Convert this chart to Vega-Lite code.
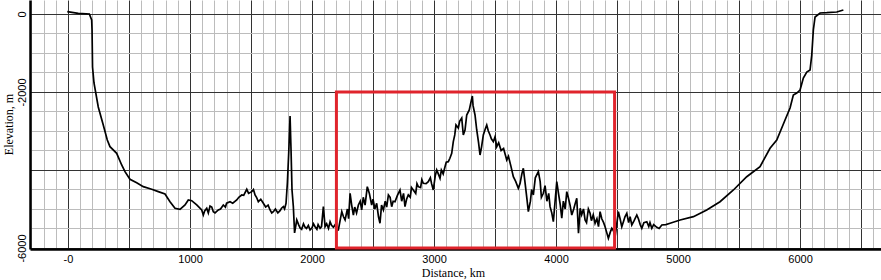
{
  "$schema": "https://vega.github.io/schema/vega-lite/v6.json",
  "width": 851,
  "height": 249,
  "autosize": {"type": "none"},
  "padding": {"left": 30, "top": 0, "right": 0, "bottom": 31},
  "background": "white",
  "config": {"view": {"stroke": null}},
  "datasets": {
    "profile": [
      {"d": -6, "e": 59}, {"d": 84, "e": 18}, {"d": 175, "e": 0}, {"d": 194, "e": -154}, {"d": 197, "e": -410},
      {"d": 201, "e": -1359}, {"d": 213, "e": -1769}, {"d": 248, "e": -2385}, {"d": 289, "e": -2846}, {"d": 322, "e": -3231},
      {"d": 344, "e": -3402}, {"d": 399, "e": -3572}, {"d": 440, "e": -3872}, {"d": 467, "e": -4043}, {"d": 508, "e": -4238},
      {"d": 563, "e": -4326}, {"d": 617, "e": -4428}, {"d": 686, "e": -4495}, {"d": 740, "e": -4556}, {"d": 795, "e": -4615},
      {"d": 836, "e": -4813}, {"d": 877, "e": -4982}, {"d": 918, "e": -5008}, {"d": 959, "e": -4897}, {"d": 986, "e": -4769},
      {"d": 1014, "e": -4787}, {"d": 1055, "e": -4897}, {"d": 1096, "e": -5025}, {"d": 1109, "e": -5154}, {"d": 1120, "e": -5050},
      {"d": 1137, "e": -4982}, {"d": 1150, "e": -5100}, {"d": 1164, "e": -4923}, {"d": 1178, "e": -4950}, {"d": 1191, "e": -5069},
      {"d": 1205, "e": -5100}, {"d": 1232, "e": -5025}, {"d": 1250, "e": -5000}, {"d": 1273, "e": -4897}, {"d": 1290, "e": -4950},
      {"d": 1300, "e": -4850}, {"d": 1328, "e": -4813}, {"d": 1350, "e": -4850}, {"d": 1383, "e": -4769}, {"d": 1400, "e": -4700},
      {"d": 1424, "e": -4641}, {"d": 1440, "e": -4650}, {"d": 1465, "e": -4495}, {"d": 1480, "e": -4600}, {"d": 1506, "e": -4556},
      {"d": 1520, "e": -4500}, {"d": 1533, "e": -4641}, {"d": 1545, "e": -4700}, {"d": 1560, "e": -4813}, {"d": 1580, "e": -4750},
      {"d": 1601, "e": -4854}, {"d": 1620, "e": -4950}, {"d": 1640, "e": -4900}, {"d": 1656, "e": -5025}, {"d": 1670, "e": -5100},
      {"d": 1683, "e": -5069}, {"d": 1700, "e": -5000}, {"d": 1720, "e": -5100}, {"d": 1738, "e": -5043}, {"d": 1750, "e": -4980},
      {"d": 1765, "e": -4941}, {"d": 1775, "e": -5000}, {"d": 1787, "e": -4854}, {"d": 1798, "e": -4333}, {"d": 1809, "e": -3564},
      {"d": 1820, "e": -2615}, {"d": 1828, "e": -3487}, {"d": 1836, "e": -4513}, {"d": 1847, "e": -4941}, {"d": 1857, "e": -5615},
      {"d": 1875, "e": -5282}, {"d": 1890, "e": -5400}, {"d": 1902, "e": -5487}, {"d": 1915, "e": -5520}, {"d": 1930, "e": -5380},
      {"d": 1943, "e": -5469}, {"d": 1955, "e": -5500}, {"d": 1970, "e": -5420}, {"d": 1984, "e": -5538}, {"d": 2000, "e": -5480},
      {"d": 2012, "e": -5380}, {"d": 2025, "e": -5454}, {"d": 2040, "e": -5520}, {"d": 2050, "e": -5400}, {"d": 2066, "e": -5495},
      {"d": 2078, "e": -5450}, {"d": 2093, "e": -4941}, {"d": 2107, "e": -5454}, {"d": 2120, "e": -5380}, {"d": 2135, "e": -5500},
      {"d": 2148, "e": -5326}, {"d": 2160, "e": -5420}, {"d": 2175, "e": -5469}, {"d": 2190, "e": -5400}, {"d": 2200, "e": -5560},
      {"d": 2216, "e": -5538}, {"d": 2230, "e": -5300}, {"d": 2244, "e": -5069}, {"d": 2258, "e": -5200}, {"d": 2271, "e": -5282},
      {"d": 2290, "e": -5000}, {"d": 2300, "e": -5250}, {"d": 2312, "e": -4597}, {"d": 2325, "e": -4900}, {"d": 2339, "e": -5154},
      {"d": 2350, "e": -4950}, {"d": 2365, "e": -5100}, {"d": 2380, "e": -4897}, {"d": 2395, "e": -4800}, {"d": 2407, "e": -5025},
      {"d": 2420, "e": -4700}, {"d": 2435, "e": -4900}, {"d": 2453, "e": -4428}, {"d": 2470, "e": -4600}, {"d": 2489, "e": -4897},
      {"d": 2500, "e": -4750}, {"d": 2515, "e": -5000}, {"d": 2530, "e": -4854}, {"d": 2545, "e": -5200}, {"d": 2557, "e": -5366},
      {"d": 2570, "e": -4900}, {"d": 2585, "e": -5025}, {"d": 2600, "e": -4800}, {"d": 2612, "e": -4950}, {"d": 2626, "e": -4641},
      {"d": 2640, "e": -4700}, {"d": 2653, "e": -4941}, {"d": 2665, "e": -4800}, {"d": 2680, "e": -4813}, {"d": 2700, "e": -4650},
      {"d": 2721, "e": -4513}, {"d": 2735, "e": -4800}, {"d": 2750, "e": -4600}, {"d": 2762, "e": -4941}, {"d": 2775, "e": -4750},
      {"d": 2789, "e": -4641}, {"d": 2805, "e": -4700}, {"d": 2815, "e": -4450}, {"d": 2830, "e": -4513}, {"d": 2850, "e": -4600},
      {"d": 2860, "e": -4350}, {"d": 2871, "e": -4428}, {"d": 2890, "e": -4450}, {"d": 2900, "e": -4250}, {"d": 2912, "e": -4341},
      {"d": 2935, "e": -4350}, {"d": 2953, "e": -4300}, {"d": 2970, "e": -4200}, {"d": 2980, "e": -4350}, {"d": 2994, "e": -4513},
      {"d": 3010, "e": -4150}, {"d": 3022, "e": -4000}, {"d": 3035, "e": -4100}, {"d": 3049, "e": -4213}, {"d": 3060, "e": -4000},
      {"d": 3075, "e": -4100}, {"d": 3090, "e": -3915}, {"d": 3100, "e": -3800}, {"d": 3117, "e": -3787}, {"d": 3130, "e": -3700},
      {"d": 3145, "e": -3572}, {"d": 3158, "e": -3274}, {"d": 3170, "e": -3100}, {"d": 3180, "e": -2846}, {"d": 3199, "e": -2923},
      {"d": 3210, "e": -2750}, {"d": 3227, "e": -2667}, {"d": 3240, "e": -3100}, {"d": 3254, "e": -2974}, {"d": 3268, "e": -2590},
      {"d": 3289, "e": -2462}, {"d": 3300, "e": -2300}, {"d": 3314, "e": -2103}, {"d": 3320, "e": -2350}, {"d": 3336, "e": -2590},
      {"d": 3350, "e": -2974}, {"d": 3365, "e": -3300}, {"d": 3377, "e": -3615}, {"d": 3390, "e": -3400}, {"d": 3404, "e": -3102},
      {"d": 3420, "e": -2950}, {"d": 3432, "e": -2846}, {"d": 3445, "e": -3000}, {"d": 3459, "e": -3102}, {"d": 3470, "e": -3200},
      {"d": 3486, "e": -3274}, {"d": 3500, "e": -3150}, {"d": 3514, "e": -3402}, {"d": 3530, "e": -3300}, {"d": 3550, "e": -3500},
      {"d": 3570, "e": -3450}, {"d": 3596, "e": -3743}, {"d": 3610, "e": -3650}, {"d": 3630, "e": -3900}, {"d": 3650, "e": -4172},
      {"d": 3670, "e": -4300}, {"d": 3691, "e": -4469}, {"d": 3705, "e": -4350}, {"d": 3720, "e": -4100}, {"d": 3732, "e": -3956},
      {"d": 3745, "e": -4300}, {"d": 3760, "e": -4700}, {"d": 3773, "e": -5069}, {"d": 3790, "e": -4800}, {"d": 3800, "e": -4500},
      {"d": 3814, "e": -4641}, {"d": 3830, "e": -4200}, {"d": 3855, "e": -4043}, {"d": 3870, "e": -4300}, {"d": 3880, "e": -4700},
      {"d": 3896, "e": -4597}, {"d": 3910, "e": -4400}, {"d": 3925, "e": -4800}, {"d": 3940, "e": -4600}, {"d": 3951, "e": -4941},
      {"d": 3965, "e": -5100}, {"d": 3978, "e": -5326}, {"d": 3995, "e": -4700}, {"d": 4006, "e": -4300}, {"d": 4020, "e": -4600},
      {"d": 4035, "e": -4900}, {"d": 4047, "e": -5238}, {"d": 4060, "e": -4800}, {"d": 4075, "e": -5000}, {"d": 4088, "e": -4556},
      {"d": 4100, "e": -4700}, {"d": 4115, "e": -4900}, {"d": 4129, "e": -5154}, {"d": 4145, "e": -5000}, {"d": 4158, "e": -4850},
      {"d": 4170, "e": -4726}, {"d": 4184, "e": -5623}, {"d": 4198, "e": -4982}, {"d": 4210, "e": -5150}, {"d": 4225, "e": -5000},
      {"d": 4238, "e": -5282}, {"d": 4250, "e": -5350}, {"d": 4265, "e": -5000}, {"d": 4279, "e": -5110}, {"d": 4290, "e": -5300},
      {"d": 4305, "e": -5150}, {"d": 4320, "e": -5366}, {"d": 4335, "e": -5250}, {"d": 4348, "e": -5450}, {"d": 4361, "e": -5069},
      {"d": 4375, "e": -5250}, {"d": 4390, "e": -5350}, {"d": 4402, "e": -5454}, {"d": 4415, "e": -5600}, {"d": 4429, "e": -5751},
      {"d": 4444, "e": -5600}, {"d": 4457, "e": -5495}, {"d": 4470, "e": -5550}, {"d": 4484, "e": -5710}, {"d": 4495, "e": -5450},
      {"d": 4511, "e": -5069}, {"d": 4525, "e": -5250}, {"d": 4539, "e": -5454}, {"d": 4555, "e": -5300}, {"d": 4565, "e": -5200},
      {"d": 4580, "e": -5110}, {"d": 4595, "e": -5350}, {"d": 4607, "e": -5200}, {"d": 4621, "e": -5410}, {"d": 4640, "e": -5300},
      {"d": 4662, "e": -5154}, {"d": 4675, "e": -5250}, {"d": 4690, "e": -5400}, {"d": 4703, "e": -5495}, {"d": 4720, "e": -5350},
      {"d": 4744, "e": -5326}, {"d": 4760, "e": -5450}, {"d": 4770, "e": -5350}, {"d": 4785, "e": -5495}, {"d": 4800, "e": -5400},
      {"d": 4826, "e": -5469}, {"d": 4845, "e": -5500}, {"d": 4867, "e": -5410}, {"d": 4900, "e": -5400}, {"d": 4935, "e": -5366},
      {"d": 5017, "e": -5282}, {"d": 5126, "e": -5197}, {"d": 5235, "e": -5025}, {"d": 5344, "e": -4813}, {"d": 5454, "e": -4513},
      {"d": 5563, "e": -4172}, {"d": 5672, "e": -3915}, {"d": 5754, "e": -3443}, {"d": 5809, "e": -3231}, {"d": 5877, "e": -2718},
      {"d": 5918, "e": -2410}, {"d": 5945, "e": -2077}, {"d": 5973, "e": -2026}, {"d": 6000, "e": -1949}, {"d": 6027, "e": -1641},
      {"d": 6055, "e": -1487}, {"d": 6082, "e": -1436}, {"d": 6096, "e": -1051}, {"d": 6109, "e": -410}, {"d": 6123, "e": -77},
      {"d": 6164, "e": 26}, {"d": 6219, "e": 33}, {"d": 6301, "e": 51}, {"d": 6355, "e": 103}
    ],
    "box": [{"d": 2200, "d2": 4480, "e": -2000, "e2": -6000}]
  },
  "encoding": {
    "x": {
      "field": "d", "type": "quantitative",
      "scale": {"domain": [-311.5, 6663.5], "nice": false, "zero": false},
      "axis": {
        "values": [-300,-200,-100,0,100,200,300,400,500,600,700,800,900,1000,1100,1200,1300,1400,1500,1600,1700,1800,1900,2000,2100,2200,2300,2400,2500,2600,2700,2800,2900,3000,3100,3200,3300,3400,3500,3600,3700,3800,3900,4000,4100,4200,4300,4400,4500,4600,4700,4800,4900,5000,5100,5200,5300,5400,5500,5600,5700,5800,5900,6000,6100,6200,6300,6400,6500,6600],
        "title": "Distance, km",
        "grid": true,
        "gridColor": {"condition": {"test": "datum.value % 500 === 0", "value": "#333333"}, "value": "#bcbcbc"},
        "gridWidth": 1,
        "ticks": false,
        "domainColor": "black",
        "domainWidth": 2.5,
        "labelExpr": "datum.value % 1000 === 0 ? (datum.value === 0 ? '-0' : datum.value + '') : ''",
        "labelFont": "Liberation Sans",
        "labelFontSize": 11,
        "labelColor": "black",
        "labelBaseline": "alphabetic",
        "labelPadding": 13,
        "labelOverlap": false,
        "labelBound": false,
        "labelFlush": false,
        "titleFont": "Liberation Serif",
        "titleFontSize": 12,
        "titleFontWeight": "normal",
        "titleColor": "black",
        "titleBaseline": "alphabetic",
        "titleAlign": "center",
        "titleX": 423,
        "titleY": 27.5
      }
    },
    "y": {
      "field": "e", "type": "quantitative",
      "scale": {"domain": [-6026, 359], "nice": false, "zero": false},
      "axis": {
        "values": [0,-500,-1000,-1500,-2000,-2500,-3000,-3500,-4000,-4500,-5000,-5500,-6000],
        "title": "Elevation, m",
        "grid": true,
        "gridColor": {"condition": {"test": "datum.value % 2000 === 0", "value": "#333333"}, "value": "#bcbcbc"},
        "gridWidth": 1,
        "ticks": false,
        "domainColor": "black",
        "domainWidth": 2.5,
        "labelExpr": "indexof([0, -2000, -6000], datum.value) >= 0 ? datum.value + '' : ''",
        "labelFont": "Liberation Sans",
        "labelFontSize": 11,
        "labelColor": "black",
        "labelAngle": -90,
        "labelAlign": "center",
        "labelBaseline": "alphabetic",
        "labelPadding": 5,
        "labelOverlap": false,
        "labelBound": false,
        "labelFlush": false,
        "titleFont": "Liberation Serif",
        "titleFontSize": 12,
        "titleFontWeight": "normal",
        "titleColor": "black",
        "titleAngle": -90,
        "titleAlign": "center",
        "titleBaseline": "middle",
        "titleX": -22,
        "titleY": 124
      }
    }
  },
  "layer": [
    {
      "data": {"name": "profile"},
      "mark": {"type": "line", "color": "black", "strokeWidth": 1.7, "clip": true}
    },
    {
      "data": {"name": "box"},
      "mark": {"type": "rect", "filled": false, "stroke": "#e0242c", "strokeWidth": 3},
      "encoding": {
        "x2": {"field": "d2"},
        "y2": {"field": "e2"}
      }
    }
  ]
}
